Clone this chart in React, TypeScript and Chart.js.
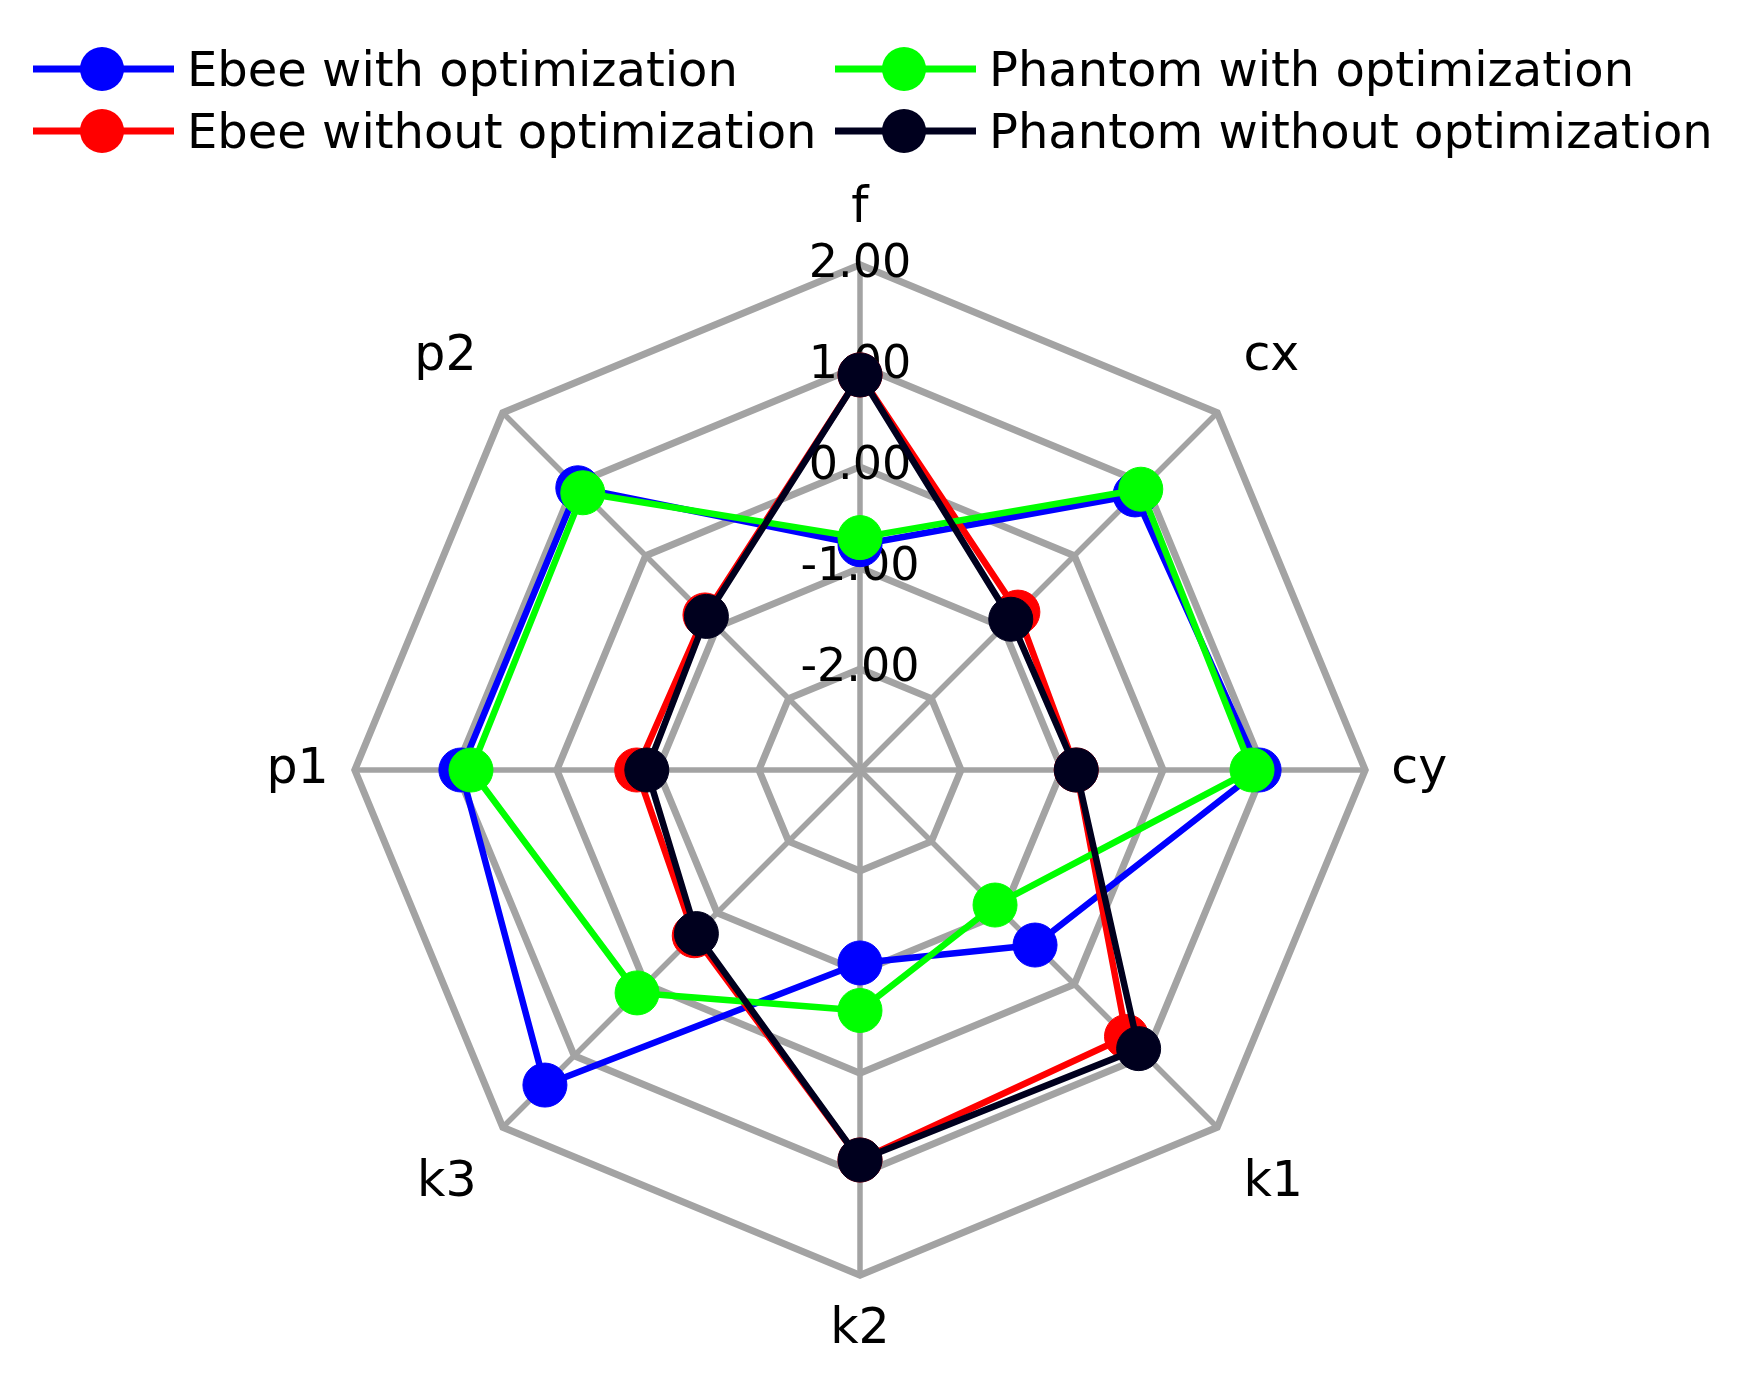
import React, { useEffect, useRef } from 'react';
import { Chart, registerables } from 'chart.js';

Chart.register(...registerables);

// ---- data ----
const axisLabels = ['f', 'cx', 'cy', 'k1', 'k2', 'k3', 'p1', 'p2'];
const seriesNames = [
  'Ebee with optimization',
  'Ebee without optimization',
  'Phantom with optimization',
  'Phantom without optimization',
];
const ebeeWith = [-0.77, 0.85, 0.95, -0.55, -1.09, 1.41, 0.95, 0.95];
const ebeeWithout = [0.91, -0.79, -0.86, 0.73, 0.86, -0.68, -0.79, -0.83];
const phantomWith = [-0.7, 0.93, 0.88, -1.11, -0.62, 0.12, 0.85, 0.88];
const phantomWithout = [0.91, -0.89, -0.86, 0.9, 0.86, -0.71, -0.89, -0.85];
const scaleMin = -3;
const scaleMax = 2;
const tickStep = 1;
const seriesColors = ['#0000ff', '#ff0000', '#00ff00', '#00001e'];

const GRID = '#a3a3a3';
const FONT = "'DejaVu Sans', sans-serif";

const seriesValues = [ebeeWith, ebeeWithout, phantomWith, phantomWithout];
// legend placement: column-major (Ebee col 1, Phantom col 2)
const legendSlots = [
  { left: 25, top: 61 },
  { left: 25, top: 123 },
  { left: 827, top: 61 },
  { left: 827, top: 123 },
];

function LegendItem({ name, color, left, top }: { name: string; color: string; left: number; top: number }) {
  return (
    <div
      style={{
        position: 'absolute',
        left,
        top: top - 30,
        height: 60,
        display: 'flex',
        alignItems: 'center',
        whiteSpace: 'nowrap',
      }}
    >
      <svg width={141} height={50} style={{ display: 'block' }}>
        <line x1={0} y1={25} x2={141} y2={25} stroke={color} strokeWidth={7} />
        <circle cx={69} cy={25} r={22} fill={color} />
      </svg>
      <span
        style={{
          marginLeft: 13,
          fontFamily: FONT,
          fontSize: 48,
          color: '#000',
          lineHeight: 'normal',
        }}
      >
        {name}
      </span>
    </div>
  );
}

export default function App() {
  const ref = useRef<HTMLCanvasElement>(null);

  useEffect(() => {
    const canvas = ref.current;
    if (!canvas) return;
    const chart = new Chart(canvas, {
      type: 'radar',
      data: {
        labels: axisLabels,
        datasets: seriesNames.map((name, i) => ({
          label: name,
          data: seriesValues[i],
          borderColor: seriesColors[i],
          backgroundColor: seriesColors[i],
          pointBackgroundColor: seriesColors[i],
          pointBorderColor: seriesColors[i],
          borderWidth: 6.5,
          pointRadius: 22,
          pointHoverRadius: 22,
          pointBorderWidth: 1,
          fill: false,
          tension: 0,
          order: seriesNames.length - i,
        })),
      },
      options: {
        responsive: false,
        animation: false,
        layout: { padding: { top: 172, bottom: 7, left: 0, right: 21 } },
        plugins: {
          legend: { display: false },
          tooltip: { enabled: false },
        },
        elements: { line: { borderJoinStyle: 'round' } },
        scales: {
          r: {
            min: scaleMin,
            max: scaleMax,
            ticks: {
              stepSize: tickStep,
              callback: (v: any) => (Number(v) === scaleMin ? '' : Number(v).toFixed(2)),
              showLabelBackdrop: false,
              color: '#000',
              font: { family: FONT, size: 46 },
            },
            grid: { color: GRID, lineWidth: 7 },
            angleLines: { color: GRID, lineWidth: 5.5 },
            pointLabels: {
              color: '#000',
              font: { family: FONT, size: 49 },
              padding: (ctx: any) => (ctx.index % 2 === 1 ? 12 : 1),
            },
          },
        },
      },
    });
    return () => chart.destroy();
  }, []);

  return (
    <div style={{ position: 'relative', width: 1725, height: 1360 }}>
      <canvas ref={ref} width={1725} height={1360} style={{ display: 'block' }} />
      {seriesNames.map((name, i) => (
        <LegendItem key={name} name={name} color={seriesColors[i]} left={legendSlots[i].left} top={legendSlots[i].top} />
      ))}
    </div>
  );
}
